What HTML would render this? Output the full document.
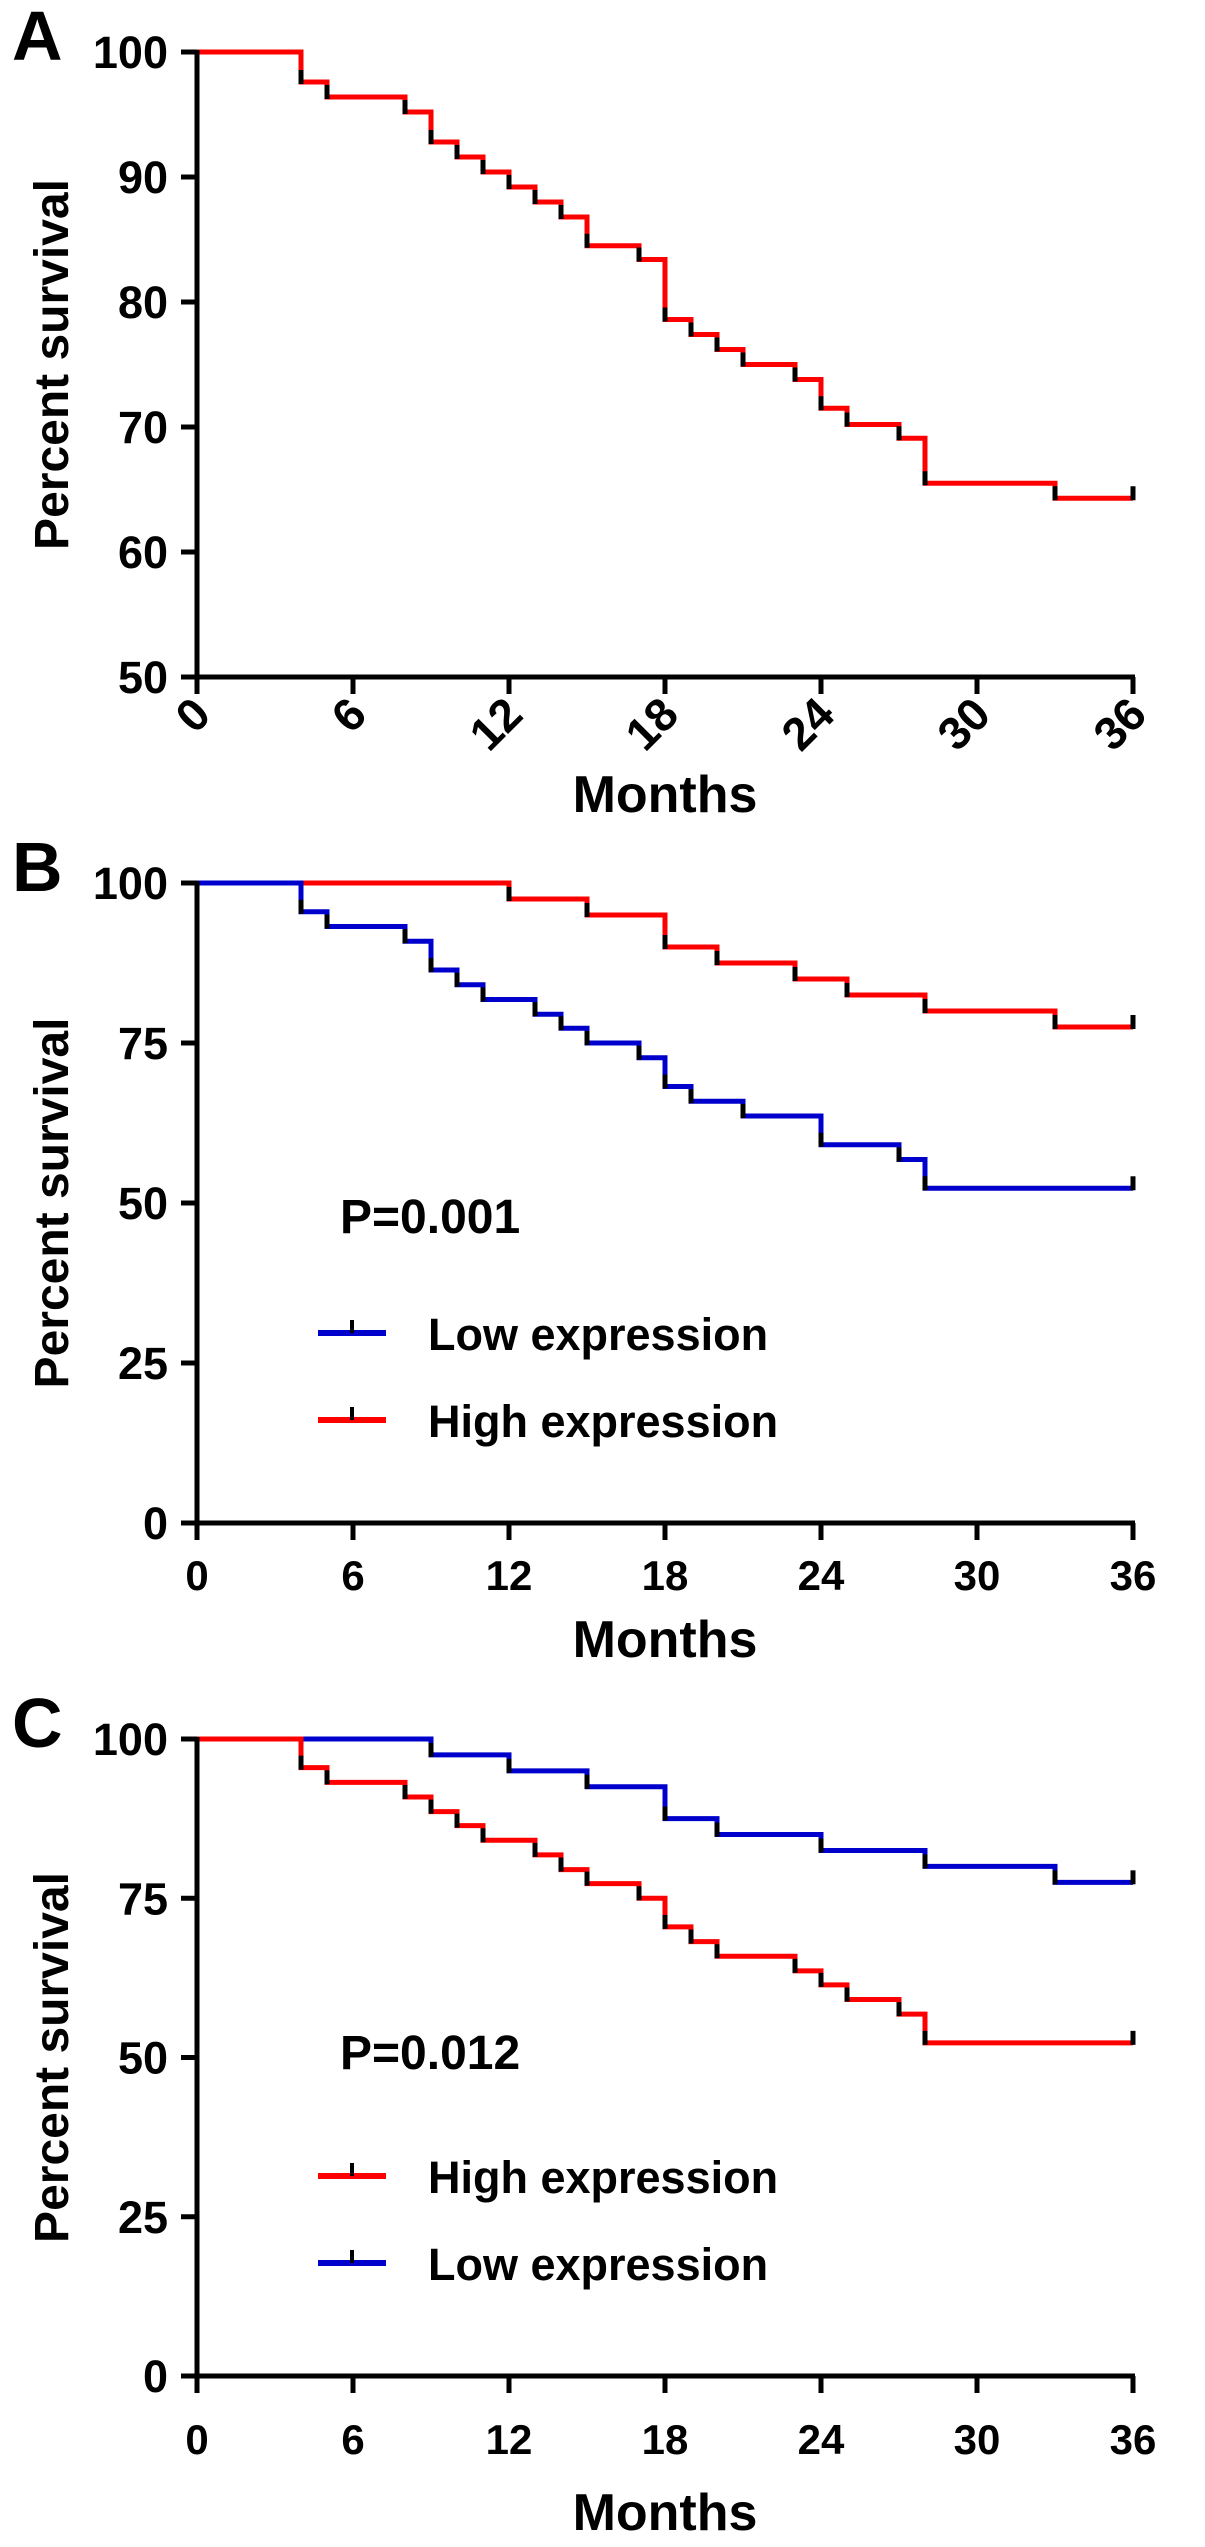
<!DOCTYPE html>
<html><head><meta charset="utf-8"><style>
body{margin:0;background:#fff;}
svg{display:block;font-family:"Liberation Sans",sans-serif;font-weight:bold;}
</style></head><body>
<svg id="fig" width="1205" height="2547" viewBox="0 0 1205 2547" xmlns="http://www.w3.org/2000/svg"></svg>
<script>
// Panel A data
const aTimes = [4,5,8,9,10,11,12,13,14,15,17,18,19,20,21,23,24,25,27,28,33];
const aValues = [97.6,96.4,95.2,92.8,91.6,90.4,89.2,88.0,86.8,84.5,83.4,78.6,77.4,76.2,75.0,73.8,71.5,70.2,69.1,65.5,64.3];
const aYTicks = [50,60,70,80,90,100];
// Panel B data
const bLowTimes = [4,5,8,9,10,11,13,14,15,17,18,19,21,24,27,28];
const bLowValues = [95.5,93.2,90.9,86.4,84.1,81.8,79.5,77.3,75.0,72.7,68.2,65.9,63.6,59.1,56.8,52.3];
const bHighTimes = [12,15,18,20,23,25,28,33];
const bHighValues = [97.5,95.0,90.0,87.5,85.0,82.5,80.0,77.5];
// Panel C data
const cHighTimes = [4,5,8,9,10,11,13,14,15,17,18,19,20,23,24,25,27,28];
const cHighValues = [95.5,93.2,90.9,88.6,86.4,84.1,81.8,79.5,77.3,75.0,70.5,68.2,65.9,63.6,61.4,59.1,56.8,52.3];
const cLowTimes = [9,12,15,18,20,24,28,33];
const cLowValues = [97.5,95.0,92.5,87.5,85.0,82.5,80.0,77.5];
const bcYTicks = [0,25,50,75,100];
const xTicks = [0,6,12,18,24,30,36];

const NS="http://www.w3.org/2000/svg";
const svg=document.getElementById('fig');
function mk(tag,attrs,parent){const e=document.createElementNS(NS,tag);for(const k in attrs)e.setAttribute(k,attrs[k]);(parent||svg).appendChild(e);return e;}

function panel(o){
  const g=mk('g',{});
  
  
  const x0=197,x1=1133;
  const sx=t=>x0+(x1-x0)*t/36;
  const sy=v=>o.yTop+(o.yBot-o.yTop)*(o.yMax-v)/(o.yMax-o.yMin);
  const L=mk('text',{x:12,y:o.yTop+8,'font-size':70},g);L.textContent=o.letter;
  
  
  const cy=(o.yTop+o.yBot)/2;
  const yt=mk('text',{x:0,y:0,'font-size':48,'text-anchor':'middle',transform:`translate(68,${cy}) rotate(-90)`},g);yt.textContent='Percent survival';
  
  
  o.series.forEach(s=>{
    let d=`M${x0},${sy(100)}`;let prev=100;
    s.t.forEach((t,i)=>{d+=` H${sx(t)} V${sy(s.v[i])}`;prev=s.v[i];});
    d+=` H${sx(36)}`;
    const p=mk('path',{d:d,fill:'none',stroke:s.color,'stroke-width':5},g);
    
    
    s.t.forEach((t,i)=>{
      const c=mk('line',{x1:sx(t),x2:sx(t),y1:sy(s.v[i])+2,y2:sy(s.v[i])-12,stroke:'#000','stroke-width':5},g);
      
      
    });
    const e=mk('line',{x1:sx(36),x2:sx(36),y1:sy(prev)+2,y2:sy(prev)-12,stroke:'#000','stroke-width':5},g);
    
    
  });
  const ya=mk('line',{x1:x0,x2:x0,y1:o.yTop-2,y2:o.yBot+2,stroke:'#000','stroke-width':5},g);
  
  
  const xa=mk('line',{x1:x0-2,x2:x1+2,y1:o.yBot,y2:o.yBot,stroke:'#000','stroke-width':5},g);
  
  
  o.yTicks.forEach(v=>{
    mk('line',{x1:x0-16,x2:x0,y1:sy(v),y2:sy(v),stroke:'#000','stroke-width':5},g);
    const t=mk('text',{x:168,y:sy(v)+16,'font-size':45,'text-anchor':'end'},g);t.textContent=v;
    
    
  });
  xTicks.forEach(v=>{
    mk('line',{x1:sx(v),x2:sx(v),y1:o.yBot,y2:o.yBot+17,stroke:'#000','stroke-width':5},g);
    let t;
    if(o.rot){t=mk('text',{x:0,y:0,'font-size':46,'text-anchor':'end',transform:`translate(${sx(v)+16},${o.yBot+40}) rotate(-45)`},g);}
    else{t=mk('text',{x:sx(v),y:o.xLabY,'font-size':42,'text-anchor':'middle'},g);}
    t.textContent=v;
    
    
  });
  const mt=mk('text',{x:665,y:o.monthsY,'font-size':52,'text-anchor':'middle'},g);mt.textContent='Months';
  
  
  if(o.p){
    const pt=mk('text',{x:340,y:o.p.y,'font-size':48},g);pt.textContent=o.p.text;
    
    
    o.legend.forEach(l=>{
      const lg=mk('g',{},g);
      
      
      mk('line',{x1:318,x2:386,y1:l.y,y2:l.y,stroke:l.color,'stroke-width':6},lg);
      mk('line',{x1:352,x2:352,y1:l.y,y2:l.y-13,stroke:'#000','stroke-width':4},lg);
      const lt=mk('text',{x:428,y:l.y+17,'font-size':45},lg);lt.textContent=l.text;
    });
  }
}

panel({name:'panel-a',letter:'A',yTop:52,yBot:677,yMin:50,yMax:100,yTicks:aYTicks,rot:true,monthsY:812,
  series:[{name:'overall-survival-curve',t:aTimes,v:aValues,color:'#ff0000'}]});
panel({name:'panel-b',letter:'B',yTop:883,yBot:1523,yMin:0,yMax:100,yTicks:bcYTicks,xLabY:1590,monthsY:1657,
  series:[{name:'high-expression-curve',t:bHighTimes,v:bHighValues,color:'#ff0000'},{name:'low-expression-curve',t:bLowTimes,v:bLowValues,color:'#0000cc'}],
  p:{text:'P=0.001',y:1233},legend:[{text:'Low expression',color:'#0000cc',y:1333},{text:'High expression',color:'#ff0000',y:1420}]});
panel({name:'panel-c',letter:'C',yTop:1739,yBot:2376,yMin:0,yMax:100,yTicks:bcYTicks,xLabY:2454,monthsY:2530,
  series:[{name:'low-expression-curve',t:cLowTimes,v:cLowValues,color:'#0000cc'},{name:'high-expression-curve',t:cHighTimes,v:cHighValues,color:'#ff0000'}],
  p:{text:'P=0.012',y:2069},legend:[{text:'High expression',color:'#ff0000',y:2176},{text:'Low expression',color:'#0000cc',y:2263}]});
</script>
</body></html>
